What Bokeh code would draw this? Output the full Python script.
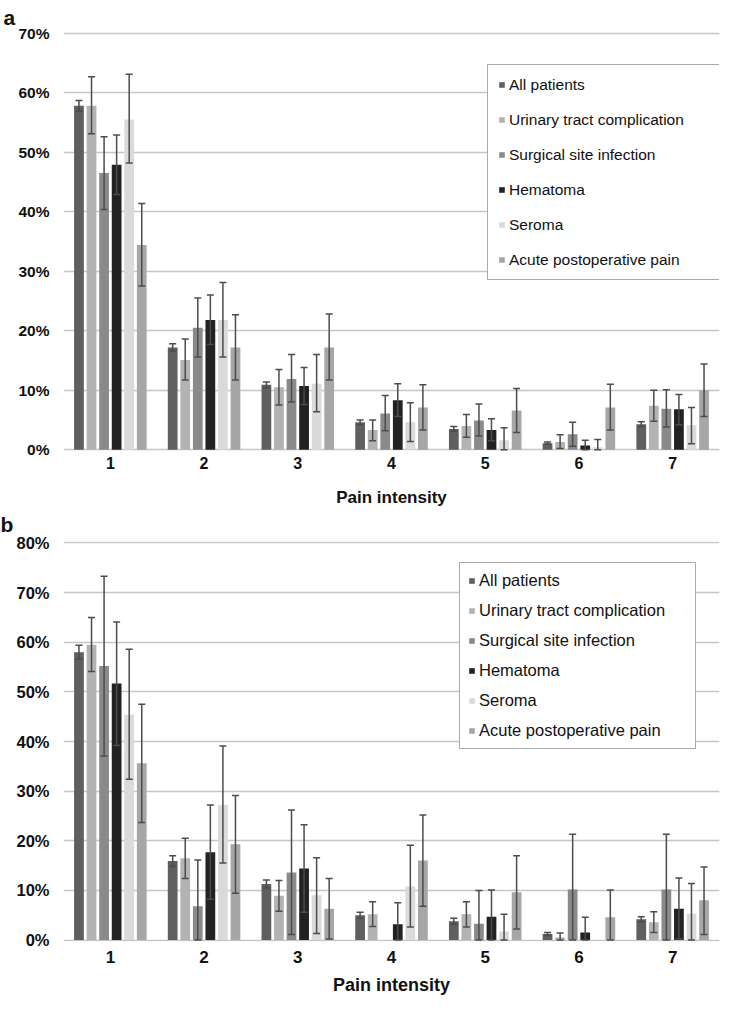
import math
from bokeh.plotting import figure
from bokeh.models import (FactorRange, Range1d, Whisker, TeeHead, ColumnDataSource,
                          Label, FixedTicker, PrintfTickFormatter)
from bokeh.transform import dodge
from bokeh.layouts import column
from bokeh.embed import file_html
from bokeh.resources import INLINE

FONT = "Liberation Sans"
NAN = float("nan")

categories = ["1", "2", "3", "4", "5", "6", "7"]
series = ["All patients", "Urinary tract complication", "Surgical site infection",
          "Hematoma", "Seroma", "Acute postoperative pain"]
colors = ["#5f5f5f", "#b3b3b3", "#8a8a8a", "#222222", "#dadada", "#a6a6a6"]

# ---------- panel a (percent) ----------
a_all = [57.8, 17.2, 10.9, 4.6, 3.5, 1.1, 4.3]
a_all_lo = [56.9, 16.6, 10.4, 4.2, 3.1, 0.9, 3.9]
a_all_hi = [58.7, 17.8, 11.4, 5.0, 3.9, 1.3, 4.7]
a_uti = [57.8, 15.1, 10.5, 3.3, 4.0, 1.3, 7.4]
a_uti_lo = [53.1, 11.7, 7.5, 1.5, 2.1, 0.2, 4.8]
a_uti_hi = [62.7, 18.6, 13.5, 5.0, 5.9, 2.5, 10.0]
a_ssi = [46.5, 20.5, 11.9, 6.1, 4.9, 2.6, 6.9]
a_ssi_lo = [40.4, 15.6, 8.0, 3.2, 2.3, 0.6, 3.8]
a_ssi_hi = [52.6, 25.5, 16.0, 9.1, 7.7, 4.6, 10.1]
a_hem = [47.9, 21.8, 10.7, 8.3, 3.3, 0.7, 6.8]
a_hem_lo = [42.9, 17.7, 7.6, 5.6, 1.5, 0.0, 4.2]
a_hem_hi = [52.9, 26.0, 13.8, 11.1, 5.2, 1.6, 9.3]
a_ser = [55.5, 21.8, 11.1, 4.6, 1.6, 0.4, 4.1]
a_ser_lo = [48.2, 15.6, 6.4, 1.4, 0.0, 0.0, 1.0]
a_ser_hi = [63.1, 28.1, 16.0, 7.9, 3.7, 1.7, 7.1]
a_acu = [34.4, 17.2, 17.2, 7.1, 6.6, 7.1, 10.0]
a_acu_lo = [27.5, 11.7, 11.7, 3.3, 2.9, 3.3, 5.6]
a_acu_hi = [41.4, 22.7, 22.8, 10.9, 10.3, 11.0, 14.4]

# ---------- panel b (percent) ----------
b_all = [58.0, 15.9, 11.3, 5.0, 3.8, 1.2, 4.2]
b_all_lo = [56.6, 14.8, 10.5, 4.4, 3.2, 0.9, 3.7]
b_all_hi = [59.4, 17.0, 12.1, 5.6, 4.4, 1.5, 4.7]
b_uti = [59.5, 16.5, 8.9, 5.2, 5.2, 0.5, 3.6]
b_uti_lo = [54.1, 12.4, 5.8, 2.7, 2.6, 0.0, 1.5]
b_uti_hi = [65.0, 20.5, 12.0, 7.7, 7.7, 1.4, 5.7]
b_ssi = [55.2, 6.8, 13.6, 0.0, 3.3, 10.2, 10.2]
b_ssi_lo = [37.1, 0.0, 1.1, NAN, 0.0, 0.0, 0.0]
b_ssi_hi = [73.3, 16.1, 26.2, NAN, 10.0, 21.3, 21.3]
b_hem = [51.7, 17.7, 14.4, 3.2, 4.7, 1.5, 6.3]
b_hem_lo = [39.2, 8.2, 5.6, 0.0, 0.0, 0.0, 0.2]
b_hem_hi = [64.1, 27.2, 23.2, 7.5, 10.1, 4.6, 12.5]
b_ser = [45.4, 27.2, 9.0, 10.8, 1.7, 0.0, 5.3]
b_ser_lo = [32.4, 15.5, 1.3, 2.6, 0.0, NAN, 0.0]
b_ser_hi = [58.6, 39.1, 16.6, 19.1, 5.2, NAN, 11.4]
b_acu = [35.6, 19.3, 6.3, 16.0, 9.6, 4.6, 8.0]
b_acu_lo = [23.7, 9.4, 0.2, 6.8, 2.2, 0.0, 1.1]
b_acu_hi = [47.5, 29.1, 12.4, 25.2, 17.0, 10.1, 14.7]

y_ticks_a = [0, 10, 20, 30, 40, 50, 60, 70]
y_ticks_b = [0, 10, 20, 30, 40, 50, 60, 70, 80]

A = dict(vals=[a_all, a_uti, a_ssi, a_hem, a_ser, a_acu],
         los=[a_all_lo, a_uti_lo, a_ssi_lo, a_hem_lo, a_ser_lo, a_acu_lo],
         his=[a_all_hi, a_uti_hi, a_ssi_hi, a_hem_hi, a_ser_hi, a_acu_hi])
B = dict(vals=[b_all, b_uti, b_ssi, b_hem, b_ser, b_acu],
         los=[b_all_lo, b_uti_lo, b_ssi_lo, b_hem_lo, b_ser_lo, b_acu_lo],
         his=[b_all_hi, b_uti_hi, b_ssi_hi, b_hem_hi, b_ser_hi, b_acu_hi])


def build(data, ticks, w, h, bl, br, bt, bb, fs_ytick, fs_xtick, fs_axis, fs_leg,
          tick_standoff, label_standoff, leg_loc, leg_label_w, leg_lh, leg_sp, leg_pad):
    pad = 0.3
    p = figure(x_range=FactorRange(factors=categories, range_padding=0),
               y_range=Range1d(-pad, ticks[-1] + pad),
               width=w, height=h, output_backend="svg", toolbar_location=None,
               min_border_left=bl, min_border_right=br, min_border_top=bt,
               min_border_bottom=bb)
    p.outline_line_color = None
    p.background_fill_color = "white"
    p.border_fill_color = "white"

    pitch = 0.134
    bw = 0.104
    for i, name in enumerate(series):
        off = (i - 2.5) * pitch
        src = ColumnDataSource(dict(cat=categories, val=data["vals"][i]))
        p.vbar(x=dodge("cat", off, range=p.x_range), top="val", bottom=0, width=bw,
               source=src, fill_color=colors[i], line_color=None, legend_label=name)
    for i, name in enumerate(series):
        off = (i - 2.5) * pitch
        cats, lo, hi = [], [], []
        for c, l, u in zip(categories, data["los"][i], data["his"][i]):
            if not (math.isnan(l) or math.isnan(u)):
                cats.append(c); lo.append(l); hi.append(u)
        wsrc = ColumnDataSource(dict(cat=cats, lo=lo, hi=hi))
        wh = Whisker(base=dodge("cat", off, range=p.x_range), lower="lo", upper="hi",
                     source=wsrc, line_color="#4c4c4c", line_width=1.5, level="annotation",
                     upper_head=TeeHead(size=7, line_color="#4c4c4c", line_width=1.5),
                     lower_head=TeeHead(size=7, line_color="#4c4c4c", line_width=1.5))
        p.add_layout(wh)

    p.xgrid.visible = False
    p.ygrid.ticker = FixedTicker(ticks=ticks)
    p.ygrid.grid_line_color = "#c6c6c6"
    p.ygrid.grid_line_width = 1.5
    p.yaxis.ticker = FixedTicker(ticks=ticks)
    p.yaxis.formatter = PrintfTickFormatter(format="%d%%")
    for ax in (p.xaxis[0], p.yaxis[0]):
        ax.axis_line_color = None
        ax.major_tick_line_color = None
        ax.minor_tick_line_color = None
        ax.major_tick_out = 0
        ax.major_tick_in = 0
        ax.major_label_text_font = FONT
        ax.major_label_text_font_style = "bold"
        ax.major_label_text_color = "#111111"
    p.yaxis.major_label_text_font_size = fs_ytick
    p.xaxis.major_label_text_font_size = fs_xtick
    p.yaxis.major_label_standoff = 14
    p.xaxis.major_label_standoff = tick_standoff
    p.xaxis.axis_label = "Pain intensity"
    p.xaxis.axis_label_text_font = FONT
    p.xaxis.axis_label_text_font_style = "bold"
    p.xaxis.axis_label_text_font_size = fs_axis
    p.xaxis.axis_label_text_color = "#111111"
    p.xaxis.axis_label_standoff = label_standoff

    leg = p.legend[0]
    leg.location = leg_loc
    leg.label_text_font = FONT
    leg.label_text_font_size = fs_leg
    leg.label_text_color = "#111111"
    leg.glyph_width = 7
    leg.glyph_height = 7
    leg.label_standoff = 4
    leg.label_width = leg_label_w
    leg.label_height = leg_lh
    leg.spacing = leg_sp
    leg.padding = leg_pad
    leg.margin = 0
    leg.border_line_color = "#555555"
    leg.border_line_width = 1
    leg.background_fill_alpha = 1.0
    return p


pa = build(A, y_ticks_a, 738, 510, 60, 0, 31, 59, "15.5px", "16px", "17px", "15.5px",
           5, 16, (424, 171), 219, 19, 16, 10)
pb = build(B, y_ticks_b, 738, 490, 62, 19, 31, 59, "16.5px", "17px", "18px", "16.5px",
           9, 9, (396, 192), 208, 19, 11, 8)

# panel letters
pa.title.text = "a"
pa.title.align = "left"
pa.title.offset = -60
pa.title.standoff = 6
pa.title.text_font = FONT
pa.title.text_font_style = "bold"
pa.title.text_font_size = "21px"
pa.title.text_color = "#111111"

pb.add_layout(Label(x=0, y=429, x_units="screen", y_units="screen", text="b",
                    text_font=FONT, text_font_style="bold", text_font_size="21px",
                    text_align="left", text_baseline="top", text_color="#111111"),
              "left")

layout = column(pa, pb, spacing=0)
open("out.html", "w").write(file_html(layout, INLINE))
